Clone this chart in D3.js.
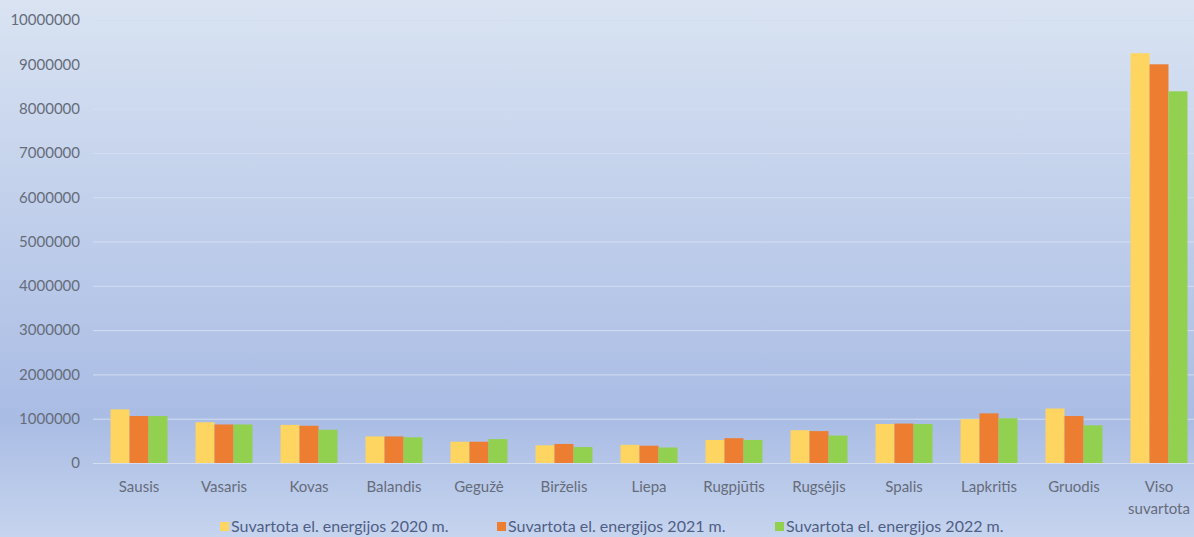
<!DOCTYPE html>
<html><head><meta charset="utf-8">
<script src="https://cdn.jsdelivr.net/npm/d3@7"></script>
<style>html,body{margin:0;padding:0;overflow:hidden}svg{display:block}</style>
</head><body>
<svg id="chart" width="1194" height="537"></svg>
<script>
const categories = ["Sausis","Vasaris","Kovas","Balandis","Gegužė","Birželis","Liepa","Rugpjūtis","Rugsėjis","Spalis","Lapkritis","Gruodis","Viso suvartota"];
const seriesNames = ["Suvartota el. energijos 2020 m.","Suvartota el. energijos 2021 m.","Suvartota el. energijos 2022 m."];
const values2020 = [1210000, 920000, 860000, 600000, 480000, 400000, 410000, 520000, 740000, 880000, 990000, 1230000, 9250000];
const values2021 = [1060000, 870000, 840000, 600000, 480000, 430000, 390000, 560000, 720000, 890000, 1120000, 1060000, 9000000];
const values2022 = [1060000, 870000, 750000, 580000, 540000, 360000, 350000, 520000, 620000, 880000, 1010000, 850000, 8390000];
const yTicks = [0,1000000,2000000,3000000,4000000,5000000,6000000,7000000,8000000,9000000,10000000];
const colors = ["#ffd561","#ed7d31","#92d050"];

const FONT = "Lato, 'Liberation Sans', Arial, sans-serif";
const svg = d3.select("#chart");
const W = 1194, H = 537;
const defs = svg.append("defs");
const grad = defs.append("linearGradient").attr("id","bg").attr("x1",0).attr("y1",0).attr("x2",0).attr("y2",1);
grad.append("stop").attr("offset","0%").attr("stop-color","#d9e3f2");
grad.append("stop").attr("offset","78%").attr("stop-color","#a9bce4");
grad.append("stop").attr("offset","100%").attr("stop-color","#c6d4ee");
svg.append("rect").attr("width",W).attr("height",H).attr("fill","url(#bg)");

const x = d3.scaleBand().domain(categories).range([96.5, 1201.5]).paddingInner(0.33).paddingOuter(0.165);
const xs = d3.scaleBand().domain(seriesNames).range([0, x.bandwidth()]);
const y = d3.scaleLinear().domain([0, 10000000]).range([463, 20]);

// grid
svg.append("g").selectAll("line").data(yTicks).join("line")
  .attr("x1", 93).attr("x2", W).attr("y1", d => y(d)+0.5).attr("y2", d => y(d)+0.5)
  .attr("stroke", "#d4def2").attr("stroke-width", 1);

// y axis
const yAxis = svg.append("g").attr("transform","translate(80,0)")
  .call(d3.axisLeft(y).tickValues(yTicks).tickSize(0).tickPadding(0).tickFormat(d3.format("d")));
yAxis.select(".domain").remove();
yAxis.selectAll("text").attr("font-family",FONT).attr("font-size","15px").attr("fill","#666c7a");

// bars
const series = [values2020, values2021, values2022];
const g = svg.append("g");
series.forEach((vals, si) => {
  g.append("g").selectAll("rect").data(categories).join("rect")
    .attr("x", (c) => x(c) + xs(seriesNames[si]))
    .attr("width", xs.bandwidth())
    .attr("y", (c,i) => y(vals[i]))
    .attr("height", (c,i) => y(0) - y(vals[i]))
    .attr("fill", colors[si]);
});

// x axis
const xAxis = svg.append("g").attr("transform","translate(0,463)")
  .call(d3.axisBottom(x).tickSize(0).tickPadding(18));
xAxis.select(".domain").remove();
xAxis.selectAll("text").attr("font-family",FONT).attr("font-size","15px").attr("fill","#666c7a")
  .each(function(d){
    const words = d.split(" ");
    if (words.length > 1) {
      const t = d3.select(this); t.text(null);
      words.forEach((w,i) => t.append("tspan").attr("x",0).attr("dy", i===0 ? "0.71em" : "1.5em").text(w));
    }
  });

// legend
const legendX = [220, 497, 775];
const lg = svg.append("g");
seriesNames.forEach((n,i) => {
  lg.append("rect").attr("x", legendX[i]).attr("y", 522).attr("width", 9).attr("height", 9).attr("fill", colors[i]);
  lg.append("text").attr("x", legendX[i] + 11).attr("y", 532).text(n)
    .attr("font-family",FONT).attr("font-size","16px").attr("fill","#4f5f86");
});
</script>
</body></html>
